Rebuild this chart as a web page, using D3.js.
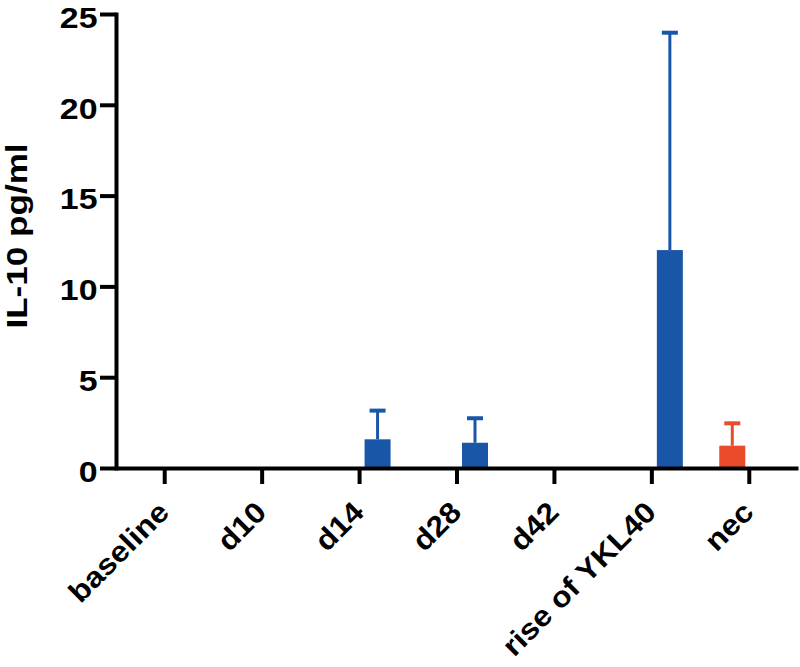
<!DOCTYPE html>
<html>
<head>
<meta charset="utf-8">
<script src="https://cdn.jsdelivr.net/npm/d3@7"></script>
<style>
  body { margin: 0; background: #fff; }
  svg { display: block; }
  text { font-family: "Liberation Sans", Arial, Helvetica, sans-serif; font-weight: bold; }
</style>
</head>
<body>
<svg id="chart" width="800" height="667"></svg>
<script>
// ---- data ----
const categories = ["baseline", "d10", "d14", "d28", "d42", "rise of YKL40", "nec"];
const seriesNames = ["red", "blue"];
const blueMean = [0, 0, 1.58, 1.39, 0, 12.0, 0];
const blueErr  = [0, 0, 1.58, 1.35, 0, 11.97, 0];
const redMean  = [0, 0, 0, 0, 0, 0, 1.23];
const redErr   = [0, 0, 0, 0, 0, 0, 1.23];
const yTicks = [0, 5, 10, 15, 20, 25];
const yTitle = "IL-10 pg/ml";
const colors = { blue: "#1a56a8", red: "#e94b2b" };

// ---- layout ----
const svg = d3.select("#chart");
const x = d3.scaleBand().domain(categories).range([116, 798]).padding(0);
const x1 = d3.scaleBand().domain(seriesNames).range([-30, 31]).paddingInner(0.257);
const y = d3.scaleLinear().domain([0, 25]).range([468, 14]);

const rows = [];
categories.forEach((c, i) => {
  if (redMean[i] > 0) rows.push({ cat: c, s: "red", v: redMean[i], e: redErr[i] });
  if (blueMean[i] > 0) rows.push({ cat: c, s: "blue", v: blueMean[i], e: blueErr[i] });
});
const cx = d => x(d.cat) + x.bandwidth() / 2 + x1(d.s);

// bars
svg.append("g").selectAll("rect").data(rows).join("rect")
  .attr("x", d => cx(d))
  .attr("width", x1.bandwidth())
  .attr("y", d => y(d.v))
  .attr("height", d => y(0) - y(d.v))
  .attr("fill", d => colors[d.s]);

// error bars
const eg = svg.append("g");
eg.selectAll("line.stem").data(rows).join("line")
  .attr("class", "stem")
  .attr("x1", d => cx(d) + x1.bandwidth() / 2)
  .attr("x2", d => cx(d) + x1.bandwidth() / 2)
  .attr("y1", d => y(d.v))
  .attr("y2", d => y(d.v + d.e))
  .attr("stroke", d => colors[d.s])
  .attr("stroke-width", 3);
eg.selectAll("line.cap").data(rows).join("line")
  .attr("class", "cap")
  .attr("x1", d => cx(d) + x1.bandwidth() / 2 - 8)
  .attr("x2", d => cx(d) + x1.bandwidth() / 2 + 8)
  .attr("y1", d => y(d.v + d.e))
  .attr("y2", d => y(d.v + d.e))
  .attr("stroke", d => colors[d.s])
  .attr("stroke-width", 4);

// y axis
const yAxis = svg.append("g")
  .attr("transform", "translate(116,0)")
  .call(d3.axisLeft(y).tickValues(yTicks).tickSize(16).tickSizeOuter(0).tickPadding(3));
yAxis.select(".domain").attr("stroke", "#000").attr("stroke-width", 4).attr("stroke-linecap", "square");
yAxis.selectAll(".tick line").attr("stroke", "#000").attr("stroke-width", 4);
yAxis.selectAll(".tick text").attr("font-size", 30).attr("fill", "#000")
  .attr("font-family", "Liberation Sans, Arial, sans-serif").attr("font-weight", "bold")
  .attr("x", 0).attr("dy", "0.44em")
  .attr("transform", "translate(-18.5,0) scale(1.13,1)");

// x axis
const xAxis = svg.append("g")
  .attr("transform", "translate(0,468)")
  .call(d3.axisBottom(x).tickSize(16).tickSizeOuter(0));
xAxis.select(".domain").attr("stroke", "#000").attr("stroke-width", 4);
xAxis.selectAll(".tick line").attr("stroke", "#000").attr("stroke-width", 4);
xAxis.selectAll(".tick text")
  .attr("font-size", 29).attr("fill", "#000")
  .attr("font-family", "Liberation Sans, Arial, sans-serif").attr("font-weight", "bold")
  .attr("text-anchor", "end")
  .attr("y", 0).attr("dy", 0)
  .attr("transform", "translate(6,46) rotate(-45) scale(1.1,1)");

// y title
svg.append("text")
  .attr("transform", "translate(27,236) rotate(-90) scale(1.17,1)")
  .attr("text-anchor", "middle")
  .attr("font-size", 30)
  .attr("fill", "#000")
  .text(yTitle);
</script>
</body>
</html>
